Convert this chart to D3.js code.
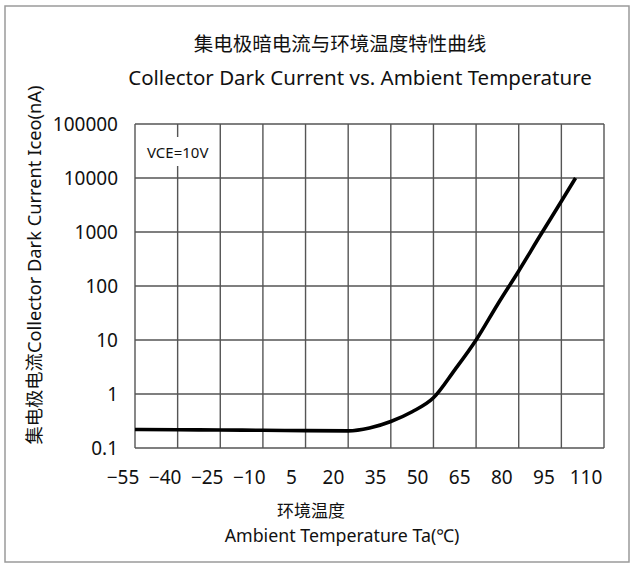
<!DOCTYPE html>
<html><head><meta charset="utf-8">
<script src="https://cdn.jsdelivr.net/npm/d3@7"></script>
<style>
html,body{margin:0;padding:0;background:#fff;}
svg{display:block;}
text{font-family:"Noto Sans","Noto Sans CJK SC",sans-serif;fill:#111;}
</style></head>
<body>
<script>
// ---- data ----
const temperatures = [-55, -40, -25, -10, 5, 20, 27.5, 35, 42.5, 50, 57.5, 65, 72.5, 80, 87.5, 95, 100];
const darkCurrent  = [0.22, 0.218, 0.215, 0.213, 0.21, 0.208, 0.235, 0.31, 0.47, 0.85, 2.8, 10, 45, 190, 850, 3700, 10000];
const xTicks = [-55, -40, -25, -10, 5, 20, 35, 50, 65, 80, 95, 110];
const yTicks = [0.1, 1, 10, 100, 1000, 10000, 100000];
const yTickLabels = ["0.1", "1", "10", "100", "1000", "10000", "100000"];
const titleCN = "集电极暗电流与环境温度特性曲线";
const titleEN = "Collector Dark Current vs. Ambient Temperature";
const xTitleCN = "环境温度";
const xTitleEN = "Ambient Temperature Ta(℃)";
const yTitle = "集电极电流Collector Dark Current Iceo(nA)";
const noteText = "VCE=10V";

const W = 635, H = 565;
const P = {left: 135, right: 604, top: 124, bottom: 448};

const svg = d3.select("body").append("svg").attr("width", W).attr("height", H);

// outer frame
svg.append("rect").attr("x", 5).attr("y", 6).attr("width", 624).attr("height", 556)
  .attr("fill", "none").attr("stroke", "#9a9a9a").attr("stroke-width", 1.5);

const x = d3.scaleLinear().domain([-55, 110]).range([P.left, P.right]);
const y = d3.scaleLog().domain([0.1, 100000]).range([P.bottom, P.top]);
// tick label positions (labels in the reference sit slightly left of their gridlines)
const xLab = d3.scaleLinear().domain([-55, 110]).range([P.left - 12, P.right - 18]);

const grid = svg.append("g").attr("stroke", "#555").attr("stroke-width", 1.4);
xTicks.forEach(t => grid.append("line").attr("x1", x(t)).attr("x2", x(t)).attr("y1", P.top).attr("y2", P.bottom));
yTicks.forEach(t => grid.append("line").attr("x1", P.left).attr("x2", P.right).attr("y1", y(t)).attr("y2", y(t)));

// note box (covers grid)
svg.append("rect").attr("x", 143).attr("y", 137).attr("width", 74).attr("height", 29).attr("fill", "#fff");
svg.append("text").attr("x", 147).attr("y", 152).attr("dominant-baseline", "central")
  .attr("font-size", 15).text(noteText);

// curve
const line = d3.line().x((d, i) => x(temperatures[i])).y(d => y(d)).curve(d3.curveMonotoneX);
svg.append("path").attr("d", line(darkCurrent)).attr("fill", "none")
  .attr("stroke", "#000").attr("stroke-width", 3.6).attr("stroke-linejoin", "round").attr("stroke-linecap", "butt");

// y tick labels
svg.append("g").selectAll("text").data(yTicks).join("text")
  .attr("x", 118).attr("y", d => y(d)).attr("text-anchor", "end").attr("dominant-baseline", "central")
  .attr("font-size", 19).text((d, i) => yTickLabels[i]);

// x tick labels
svg.append("g").selectAll("text").data(xTicks).join("text")
  .attr("x", d => xLab(d)).attr("y", 477).attr("text-anchor", "middle").attr("dominant-baseline", "central")
  .attr("font-size", 19).text(d => d < 0 ? "\u2212" + Math.abs(d) : String(d));

// titles
svg.append("text").attr("x", 340).attr("y", 43).attr("text-anchor", "middle").attr("dominant-baseline", "central")
  .attr("font-size", 19.5).attr("font-family", "'Noto Sans CJK SC',sans-serif").text(titleCN);
svg.append("text").attr("x", 360).attr("y", 77).attr("text-anchor", "middle").attr("dominant-baseline", "central")
  .attr("font-size", 20.5).text(titleEN);

svg.append("text").attr("x", 311).attr("y", 510).attr("text-anchor", "middle").attr("dominant-baseline", "central")
  .attr("font-size", 17).attr("font-family", "'Noto Sans CJK SC',sans-serif").text(xTitleCN);
svg.append("text").attr("x", 342).attr("y", 535).attr("text-anchor", "middle").attr("dominant-baseline", "central")
  .attr("font-size", 17.8).text(xTitleEN);

svg.append("text").attr("transform", "translate(33,265) rotate(-90)").attr("text-anchor", "middle")
  .attr("dominant-baseline", "central").attr("font-size", 18.3).text(yTitle);
</script>
</body></html>
